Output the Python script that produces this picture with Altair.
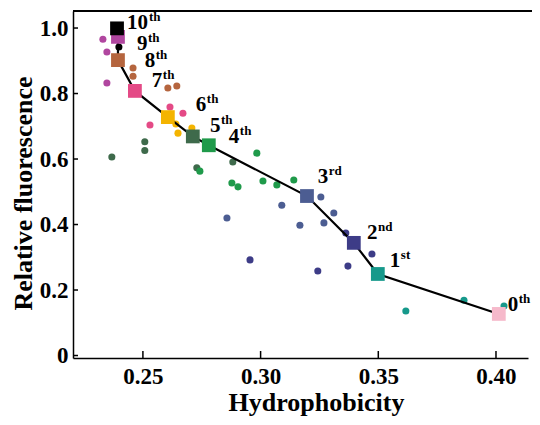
import altair as alt
import pandas as pd

# Generation means (big squares)
gen_ids = [0, 1, 2, 3, 4, 5, 6, 7, 8, 9, 10]
gen_x = [0.4012, 0.3498, 0.3396, 0.3197, 0.2780, 0.2712, 0.2606, 0.2466, 0.2394, 0.2394, 0.2390]
gen_y = [0.127, 0.249, 0.344, 0.487, 0.642, 0.669, 0.728, 0.808, 0.902, 0.973, 0.999]
gen_num = ["0", "1", "2", "3", "4", "5", "6", "7", "8", "9", "10"]
gen_suffix = ["th", "st", "nd", "rd", "th", "th", "th", "th", "th", "th", "th"]
label_x = [0.4050, 0.3549, 0.3452, 0.3243, 0.2865, 0.2785, 0.2725, 0.2538, 0.2508, 0.2475, 0.2432]
label_y = [0.154, 0.289, 0.374, 0.545, 0.667, 0.701, 0.765, 0.838, 0.900, 0.951, 1.014]

# Individual clones (small dots)
dot_gen = [10,
           9, 9, 9,
           8, 8, 8, 8,
           7, 7, 7,
           6, 6, 6,
           5, 5, 5, 5, 5,
           4, 4, 4, 4, 4, 4, 4,
           3, 3, 3, 3, 3, 3,
           2, 2, 2, 2, 2,
           1, 1, 1]
dot_x = [0.2398,
         0.2330, 0.2347, 0.2347,
         0.2458, 0.2458, 0.2606, 0.2644,
         0.2615, 0.2670, 0.2530,
         0.2640, 0.2649, 0.2708,
         0.2368, 0.2508, 0.2508, 0.2729, 0.2882,
         0.2742, 0.2984, 0.2878, 0.2904, 0.3010, 0.3069, 0.3141,
         0.3256, 0.3090, 0.3311, 0.3167, 0.3269, 0.2857,
         0.3362, 0.3473, 0.3371, 0.3243, 0.2955,
         0.3617, 0.3864, 0.4034]
dot_y = [0.942,
         0.966, 0.927, 0.832,
         0.878, 0.853, 0.817, 0.823,
         0.759, 0.740, 0.704,
         0.707, 0.679, 0.695,
         0.606, 0.653, 0.626, 0.573, 0.591,
         0.563, 0.618, 0.527, 0.515, 0.533, 0.521, 0.536,
         0.484, 0.459, 0.435, 0.398, 0.405, 0.420,
         0.374, 0.310, 0.273, 0.258, 0.292,
         0.136, 0.169, 0.151]

gen_colors = ["#f6b9cb", "#16998b", "#3d3c87", "#4c5d92", "#1f9a4a", "#3e6a4b",
              "#f4b400", "#e44a86", "#b5653e", "#b0469f", "#000000"]

x_ticks = [0.25, 0.30, 0.35, 0.40]
y_ticks = [0, 0.2, 0.4, 0.6, 0.8, 1.0]

W, H = 455, 347
FONT = "Liberation Serif"

gens = pd.DataFrame({"gen": gen_ids, "x": gen_x, "y": gen_y, "num": gen_num,
                     "suffix": gen_suffix, "lx": label_x, "ly": label_y})
gens["ndig"] = gens["num"].str.len()
dots = pd.DataFrame({"gen": dot_gen, "x": dot_x, "y": dot_y})

xs = alt.Scale(domain=[0.2203, 0.4136], nice=False, zero=False)
ys = alt.Scale(domain=[-0.0076, 1.052], nice=False, zero=False)
cs = alt.Scale(domain=gen_ids, range=gen_colors)

x_axis = alt.Axis(values=x_ticks, format=".2f", title="Hydrophobicity", grid=False,
                  ticks=False, labelPadding=7, titlePadding=1, titleX=243,
                  domainColor="black", domainWidth=1.5)
y_axis = alt.Axis(values=y_ticks, grid=False, ticks=False, labelPadding=5,
                  labelExpr="datum.value == 0 ? '0' : format(datum.value, '.1f')",
                  title="Relative fluorescence", titlePadding=3, titleY=182,
                  domainColor="black", domainWidth=1.5)

base_dots = alt.Chart(dots).mark_circle(size=50, opacity=1).encode(
    x=alt.X("x:Q", scale=xs, axis=x_axis),
    y=alt.Y("y:Q", scale=ys, axis=y_axis),
    color=alt.Color("gen:N", scale=cs, legend=None),
)

line = alt.Chart(gens).mark_line(color="black", strokeWidth=2.2).encode(
    x=alt.X("x:Q", scale=xs), y=alt.Y("y:Q", scale=ys), order="gen:Q"
)

squares = alt.Chart(gens).mark_square(size=190, opacity=1).encode(
    x=alt.X("x:Q", scale=xs), y=alt.Y("y:Q", scale=ys),
    color=alt.Color("gen:N", scale=cs, legend=None),
)

num_text = alt.Chart(gens).mark_text(font=FONT, fontWeight="bold", fontSize=21,
                                     align="left", baseline="middle", color="black").encode(
    x=alt.X("lx:Q", scale=xs), y=alt.Y("ly:Q", scale=ys), text="num:N"
)

sup1 = alt.Chart(gens).transform_filter("datum.ndig == 1").mark_text(
    font=FONT, fontWeight="bold", fontSize=13, align="left", baseline="middle",
    color="black", dx=11, dy=-6).encode(
    x=alt.X("lx:Q", scale=xs), y=alt.Y("ly:Q", scale=ys), text="suffix:N"
)
sup2 = alt.Chart(gens).transform_filter("datum.ndig == 2").mark_text(
    font=FONT, fontWeight="bold", fontSize=13, align="left", baseline="middle",
    color="black", dx=22, dy=-6).encode(
    x=alt.X("lx:Q", scale=xs), y=alt.Y("ly:Q", scale=ys), text="suffix:N"
)

ticks_df_x = pd.DataFrame({"v": x_ticks})
ticks_df_y = pd.DataFrame({"v": y_ticks})
xt = alt.Chart(ticks_df_x).mark_rule(color="black", strokeWidth=1.5).encode(
    x=alt.X("v:Q", scale=xs), y=alt.value(H), y2=alt.value(H - 7)
)
yt = alt.Chart(ticks_df_y).mark_rule(color="black", strokeWidth=1.5).encode(
    y=alt.Y("v:Q", scale=ys), x=alt.value(0), x2=alt.value(5)
)
top_border = alt.Chart(ticks_df_x).mark_rule(color="black", strokeWidth=1.5).encode(
    x=alt.value(0), x2=alt.value(W + 4), y=alt.value(0)
)

chart = alt.layer(base_dots, line, squares, num_text, sup1, sup2, xt, yt, top_border).properties(
    width=W, height=H,
    autosize=alt.AutoSizeParams(type="none"),
    padding={"left": 65, "top": 3, "right": 4, "bottom": 58},
).configure_view(stroke=None).configure_axis(
    labelFont=FONT, labelFontWeight="bold", labelFontSize=23, labelColor="black",
    titleFont=FONT, titleFontWeight="bold", titleFontSize=26, titleColor="black",
)

chart.save("out.html", embed_options={"renderer": "svg", "actions": False})
